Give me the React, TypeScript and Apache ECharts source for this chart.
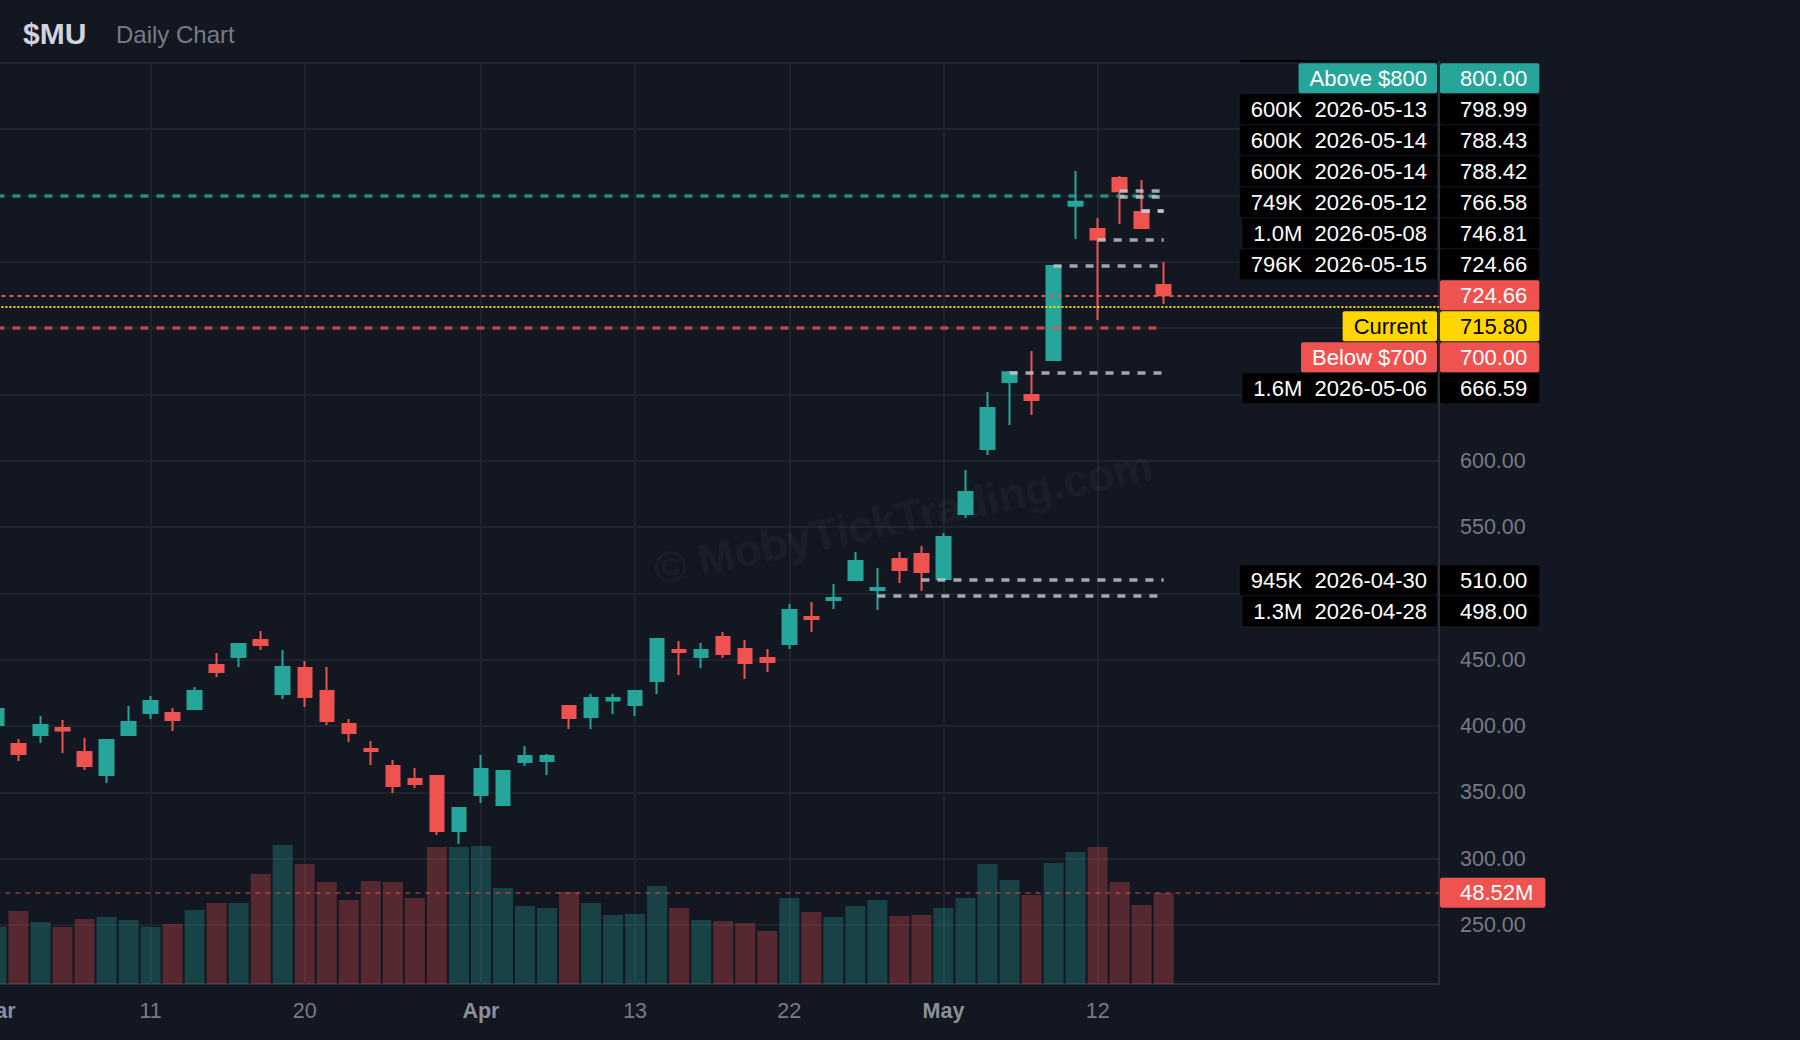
import React, { useEffect, useRef } from 'react';
import * as echarts from 'echarts';

// ---------------- DATA ----------------
const DATES = [
  '2026-03-02', '2026-03-03', '2026-03-04', '2026-03-05', '2026-03-06',
  '2026-03-09', '2026-03-10', '2026-03-11', '2026-03-12', '2026-03-13',
  '2026-03-16', '2026-03-17', '2026-03-18', '2026-03-19', '2026-03-20',
  '2026-03-23', '2026-03-24', '2026-03-25', '2026-03-26', '2026-03-27',
  '2026-03-30', '2026-03-31', '2026-04-01', '2026-04-02', '2026-04-06',
  '2026-04-07', '2026-04-08', '2026-04-09', '2026-04-10', '2026-04-13',
  '2026-04-14', '2026-04-15', '2026-04-16', '2026-04-17', '2026-04-20',
  '2026-04-21', '2026-04-22', '2026-04-23', '2026-04-24', '2026-04-27',
  '2026-04-28', '2026-04-29', '2026-04-30', '2026-05-01', '2026-05-04',
  '2026-05-05', '2026-05-06', '2026-05-07', '2026-05-08', '2026-05-11',
  '2026-05-12', '2026-05-13', '2026-05-14', '2026-05-15',
];

const OPEN = [
  400.8, 386.5, 393.3, 398.6, 380.5, 363.1, 393.3, 409.9, 409.9, 412.9,
  446.0, 452.1, 464.9, 424.2, 443.8, 426.4, 401.6, 382.7, 369.9, 360.1,
  362.4, 320.9, 348.1, 340.5, 372.9, 373.7, 415.1, 406.9, 419.2, 415.9,
  434.0, 457.3, 452.1, 467.1, 458.1, 451.3, 461.9, 482.2, 495.0, 510.1,
  502.6, 525.9, 529.7, 510.9, 559.8, 608.8, 659.3, 649.5, 675.9, 792.2,
  774.6, 813.0, 787.4, 732.4,
];
const CLOSE = [
  412.9, 378.9, 400.8, 396.6, 369.9, 389.5, 403.1, 418.9, 404.6, 426.4,
  440.8, 461.9, 461.1, 444.5, 421.9, 403.8, 394.8, 381.2, 354.9, 356.4,
  320.9, 338.3, 367.7, 366.1, 377.5, 377.5, 406.1, 421.2, 421.2, 426.4,
  465.6, 455.8, 457.3, 454.3, 447.5, 448.3, 487.5, 480.7, 496.5, 524.4,
  504.1, 517.6, 516.1, 542.5, 576.4, 639.7, 666.6, 645.7, 746.8, 795.2,
  766.6, 803.0, 775.4, 724.66,
];
const LOW = [
  398.0, 373.7, 387.3, 379.7, 366.9, 357.1, 393.3, 405.3, 396.3, 412.1,
  437.0, 444.5, 457.3, 420.4, 414.4, 400.8, 388.0, 370.7, 349.6, 353.3,
  317.9, 311.1, 342.0, 339.8, 369.9, 363.1, 397.8, 397.8, 409.1, 407.6,
  424.2, 438.5, 443.8, 451.3, 435.5, 440.8, 458.1, 470.9, 488.2, 509.3,
  487.5, 507.8, 501.8, 510.0, 556.8, 604.3, 626.9, 634.4, 675.1, 767.1,
  706.0, 778.4, 774.6, 718.1,
];
const HIGH = [
  415.0, 390.3, 407.6, 404.6, 391.0, 390.3, 415.1, 422.7, 413.6, 429.4,
  455.1, 462.6, 471.7, 457.3, 449.1, 444.5, 405.4, 388.8, 374.5, 368.4,
  363.1, 338.3, 378.2, 366.9, 385.0, 379.0, 415.9, 424.2, 424.2, 427.2,
  465.6, 464.1, 462.6, 470.9, 464.9, 458.1, 492.0, 493.5, 507.1, 531.2,
  519.1, 531.2, 535.7, 545.5, 593.0, 651.8, 667.6, 682.7, 746.8, 818.3,
  782.9, 814.5, 811.5, 749.7,
];
// volume in millions of shares
const VOLUME_M = [
  30.4, 38.8, 32.9, 30.4, 34.5, 35.6, 34.0, 30.4, 31.9, 39.3,
  43.0, 43.0, 58.4, 73.9, 63.8, 54.2, 44.6, 54.7, 54.2, 45.7,
  72.8, 72.8, 73.3, 51.0, 41.4, 40.4, 48.9, 43.0, 36.7, 37.2,
  52.1, 40.4, 34.0, 33.5, 32.4, 28.2, 45.7, 38.3, 35.6, 41.4,
  44.6, 36.1, 36.7, 40.4, 45.7, 63.8, 55.3, 47.3, 64.3, 70.1,
  72.8, 54.2, 42.0, 48.4,
];
const AVG_VOLUME_M = 48.52;

const X_TICK_DATES = ['2026-03-02', '2026-03-11', '2026-03-20', '2026-04-01', '2026-04-13', '2026-04-22', '2026-05-01', '2026-05-12'];
const X_TICK_LABELS = ['Mar', '11', '20', 'Apr', '13', '22', 'May', '12'];

const PRICE_MIN = 200;
const PRICE_MAX = 900;
const PRICE_STEP = 50;
const VOLUME_AXIS_MAX = 490;

// order-flow levels
const LEVEL_PRICES = [803.47, 798.99, 788.43, 788.42, 766.58, 746.81, 724.66, 666.59, 510.0, 498.0];
const LEVEL_DATES = ['2026-05-13', '2026-05-13', '2026-05-14', '2026-05-14', '2026-05-12', '2026-05-08', '2026-05-15', '2026-05-06', '2026-04-30', '2026-04-28'];
const LEVEL_SIZES = ['600K', '600K', '600K', '600K', '749K', '1.0M', '796K', '1.6M', '945K', '1.3M'];

const ABOVE_PRICE = 800;
const BELOW_PRICE = 700;
const CURRENT_PRICE = 715.8;

const PAD_SLOTS = 12;

// ---------------- STYLE ----------------
const BG = '#131722';
const GRID = '#1f232d';
const AXIS = '#2a2e39';
const TEXT_GRAY = '#787b86';
const TEAL = '#26a69a';
const RED = '#ef5350';
const YELLOW = '#ffd600';
const LEVEL_GRAY = 'rgba(200,203,210,0.8)';
const FONT = '"Liberation Sans", Arial, sans-serif';
const LABEL_FS = 22;
const ROW_H = 31;
const BOX_H = 30;
const LEFT_BOX_RIGHT = 1437;
const PRICE_BOX_LEFT = 1440;
const CLIP_TOP = 60;

const CATS = [...DATES, ...Array.from({ length: PAD_SLOTS }, (_, i) => `pad-${i + 1}`)];
const LAST_IDX = DATES.length - 1;
const LAST_PRICE = CLOSE[LAST_IDX];
const TICK_IDX = X_TICK_DATES.map((d) => DATES.indexOf(d));

function measure(text: string, weight = 'normal', size = LABEL_FS): number {
  const ctx = document.createElement('canvas').getContext('2d') as CanvasRenderingContext2D;
  ctx.font = `${weight} ${size}px ${FONT}`;
  return ctx.measureText(text).width;
}

function buildOption(): any {
  const gridCommon = { left: -14.6, width: 1453.6, containLabel: false, outerBoundsMode: 'none' };
  const candles = DATES.map((_, i) => [OPEN[i], CLOSE[i], LOW[i], HIGH[i]]);
  const upVol = 'rgba(38,166,154,0.3)';
  const downVol = 'rgba(239,83,80,0.3)';
  const dashed = (color: string) => ({ color, width: 3.5, type: [8, 8] });

  const levelLines = LEVEL_PRICES.map((p, k) => [
    { coord: [DATES.indexOf(LEVEL_DATES[k]), p], lineStyle: dashed(LEVEL_GRAY) },
    { coord: [LAST_IDX, p] },
  ]);

  return {
    animation: false,
    backgroundColor: BG,
    grid: [
      { ...gridCommon, top: 62.6, height: 928.9 },
      { ...gridCommon, top: 62, height: 922 },
    ],
    xAxis: [
      { type: 'category', gridIndex: 0, data: CATS, boundaryGap: true, show: false },
      {
        type: 'category',
        gridIndex: 1,
        data: CATS,
        boundaryGap: true,
        axisLine: { show: true, lineStyle: { color: AXIS, width: 2 } },
        axisTick: { show: false },
        splitLine: { show: false },
        axisLabel: {
          margin: 16,
          interval: (i: number) => TICK_IDX.includes(i),
          formatter: (v: string) => {
            const k = X_TICK_DATES.indexOf(v);
            if (k < 0) return '';
            const lab = X_TICK_LABELS[k];
            return isNaN(Number(lab)) ? `{m|${lab}}` : `{d|${lab}}`;
          },
          rich: {
            m: { fontFamily: FONT, fontSize: 21.5, fontWeight: 'bold', color: '#8c8f98' },
            d: { fontFamily: FONT, fontSize: 21.5, color: TEXT_GRAY },
          },
        },
      },
    ],
    yAxis: [
      {
        type: 'value',
        gridIndex: 0,
        position: 'right',
        min: PRICE_MIN,
        max: PRICE_MAX,
        interval: PRICE_STEP,
        axisLine: { show: false },
        axisTick: { show: false },
        splitLine: { show: true, showMinLine: false, lineStyle: { color: GRID, width: 2 } },
        axisLabel: {
          margin: 21,
          color: TEXT_GRAY,
          fontFamily: FONT,
          fontSize: 21.5,
          showMinLabel: false,
          showMaxLabel: false,
          formatter: (v: number) => v.toFixed(2),
        },
      },
      {
        type: 'value',
        gridIndex: 1,
        position: 'right',
        min: 0,
        max: VOLUME_AXIS_MAX,
        axisLine: { show: true, lineStyle: { color: AXIS, width: 2 } },
        axisTick: { show: false },
        axisLabel: { show: false },
        splitLine: { show: false },
      },
    ],
    series: [
      {
        type: 'line',
        name: 'vgrid',
        xAxisIndex: 1,
        yAxisIndex: 1,
        data: [],
        silent: true,
        markLine: {
          silent: true,
          z: 1,
          symbol: ['none', 'none'],
          label: { show: false },
          emphasis: { disabled: true },
          lineStyle: { color: GRID, width: 2, type: 'solid' },
          data: TICK_IDX.map((i) => ({ xAxis: i })),
        },
      },
      {
        type: 'bar',
        name: 'Volume',
        xAxisIndex: 1,
        yAxisIndex: 1,
        barWidth: 20,
        z: 2,
        silent: true,
        data: VOLUME_M.map((v, i) => ({ value: v, itemStyle: { color: CLOSE[i] >= OPEN[i] ? upVol : downVol } })),
        markLine: {
          silent: true,
          z: 5,
          symbol: ['none', 'none'],
          label: { show: false },
          emphasis: { disabled: true },
          data: [{ yAxis: AVG_VOLUME_M, lineStyle: { color: 'rgba(239,83,80,0.45)', width: 2, type: [5, 5] } }],
        },
      },
      {
        type: 'candlestick',
        name: '$MU',
        xAxisIndex: 0,
        yAxisIndex: 0,
        barWidth: 14,
        z: 3,
        silent: true,
        itemStyle: { color: TEAL, color0: RED, borderColor: TEAL, borderColor0: RED, borderWidth: 2 },
        data: candles,
        markLine: {
          silent: true,
          z: 5,
          symbol: ['none', 'none'],
          label: { show: false },
          emphasis: { disabled: true },
          data: [
            [{ coord: [0, ABOVE_PRICE], lineStyle: dashed('rgba(38,166,154,0.8)') }, { coord: [LAST_IDX, ABOVE_PRICE] }],
            [{ coord: [0, BELOW_PRICE], lineStyle: dashed('rgba(239,83,80,0.75)') }, { coord: [LAST_IDX, BELOW_PRICE] }],
            ...levelLines,
            { yAxis: LAST_PRICE, lineStyle: { color: RED, width: 2, type: [4, 4] } },
            { yAxis: CURRENT_PRICE, lineStyle: { color: YELLOW, width: 2, type: [2, 2] } },
          ],
        },
      },
    ],
  };
}

type Box = { text: string; bg: string; fg: string };
type Row = { price: number; left?: Box; right: Box; anchor?: boolean };

function buildOverlay(chart: any): any {
  const els: any[] = [];
  const covered: Array<[number, number]> = [];
  els.push({
    type: 'text', z: 100, x: 23, y: 33,
    style: { text: '$MU', fill: '#d1d4dc', fontFamily: FONT, fontSize: 30, fontWeight: 'bold', verticalAlign: 'middle' },
  });
  els.push({
    type: 'text', z: 100, x: 116, y: 34,
    style: { text: 'Daily Chart', fill: '#787b86', fontFamily: FONT, fontSize: 24, verticalAlign: 'middle' },
  });
  els.push({
    type: 'text', z: 1, x: 903, y: 517, rotation: (12 * Math.PI) / 180, silent: true,
    style: { text: '© MobyTickTrading.com', fill: 'rgba(255,255,255,0.05)', fontFamily: FONT, fontSize: 44, fontWeight: 'bold', align: 'center', verticalAlign: 'middle' },
  });

  const rows: Row[] = [
    { price: ABOVE_PRICE, left: { text: 'Above $800', bg: TEAL, fg: '#ffffff' }, right: { text: ABOVE_PRICE.toFixed(2), bg: TEAL, fg: '#ffffff' } },
    ...LEVEL_PRICES.map((p, k) => ({
      price: p,
      left: { text: `${LEVEL_SIZES[k]}  ${LEVEL_DATES[k]}`, bg: '#000000', fg: '#ffffff' },
      right: { text: p.toFixed(2), bg: '#000000', fg: '#ffffff' },
    })),
    { price: LAST_PRICE, right: { text: LAST_PRICE.toFixed(2), bg: RED, fg: '#ffffff' }, anchor: true },
    { price: CURRENT_PRICE, left: { text: 'Current', bg: YELLOW, fg: '#000000' }, right: { text: CURRENT_PRICE.toFixed(2), bg: YELLOW, fg: '#000000' } },
    { price: BELOW_PRICE, left: { text: 'Below $700', bg: RED, fg: '#ffffff' }, right: { text: BELOW_PRICE.toFixed(2), bg: RED, fg: '#ffffff' } },
  ];
  rows.sort((a, b) => (b.price - a.price) || ((a.anchor ? 1 : 0) - (b.anchor ? 1 : 0)));

  const want = rows.map((r) => chart.convertToPixel({ yAxisIndex: 0 }, r.price) as number);
  const pos = want.slice();
  const a = rows.findIndex((r) => r.anchor);
  for (let i = a - 1; i >= 0; i--) pos[i] = Math.min(want[i], pos[i + 1] - ROW_H);
  for (let i = a + 1; i < rows.length; i++) pos[i] = Math.max(want[i], pos[i - 1] + ROW_H);

  const textStyle = (text: string, fg: string, align: string) => ({
    text, fill: fg, fontFamily: FONT, fontSize: LABEL_FS, align, verticalAlign: 'middle',
  });

  rows.forEach((r, i) => {
    const yc = pos[i];
    const top = yc - BOX_H / 2;
    const bottom = yc + BOX_H / 2;
    if (bottom <= CLIP_TOP) return;
    const clipped = top < CLIP_TOP;
    const visTop = Math.max(top, CLIP_TOP);
    if (r.left) {
      const w = measure(r.left.text) + 21;
      els.push({
        type: 'rect', z: 100,
        shape: { x: LEFT_BOX_RIGHT - w, y: visTop, width: w, height: bottom - visTop, r: clipped ? 0 : 2 },
        style: { fill: r.left.bg },
      });
      if (!clipped) {
        els.push({ type: 'text', z: 101, x: LEFT_BOX_RIGHT - 10, y: yc, style: textStyle(r.left.text, r.left.fg, 'right') });
      }
    }
    if (!clipped) {
      const w2 = measure(r.right.text) + 32;
      covered.push([top, bottom]);
      els.push({
        type: 'rect', z: 100,
        shape: { x: PRICE_BOX_LEFT, y: top, width: w2, height: BOX_H, r: 2 },
        style: { fill: r.right.bg },
      });
      els.push({ type: 'text', z: 101, x: PRICE_BOX_LEFT + w2 - 12, y: yc, style: textStyle(r.right.text, r.right.fg, 'right') });
    }
  });

  // average-volume label
  const yv = chart.convertToPixel({ yAxisIndex: 1 }, AVG_VOLUME_M) as number;
  const vText = `${AVG_VOLUME_M.toFixed(2)}M`;
  const wv = measure(vText) + 32;
  els.push({
    type: 'rect', z: 100,
    shape: { x: PRICE_BOX_LEFT, y: yv - BOX_H / 2, width: wv, height: BOX_H, r: 2 },
    style: { fill: RED },
  });
  els.push({ type: 'text', z: 101, x: PRICE_BOX_LEFT + wv - 12, y: yv, style: textStyle(vText, '#ffffff', 'right') });

  // axis tick labels that sit underneath a price box are hidden (they are covered in the chart)
  const hiddenUnder = (v: number) => {
    const y = chart.convertToPixel({ yAxisIndex: 0 }, v) as number;
    return covered.some(([t, b]) => y > t - 8 && y < b + 8) || y < CLIP_TOP + 8;
  };

  return {
    graphic: { elements: els },
    yAxis: [
      { axisLabel: { formatter: (v: number) => (hiddenUnder(v) ? '' : v.toFixed(2)) } },
      {},
    ],
  };
}

export default function App() {
  const ref = useRef<HTMLDivElement>(null);
  useEffect(() => {
    if (!ref.current) return;
    const chart = echarts.init(ref.current, null, { renderer: 'svg' });
    chart.setOption(buildOption());
    chart.setOption(buildOverlay(chart));
    return () => {
      chart.dispose();
    };
  }, []);
  return (
    <div
      ref={ref}
      style={{ position: 'fixed', left: 0, top: 0, width: 1800, height: 1040, background: BG }}
    />
  );
}
